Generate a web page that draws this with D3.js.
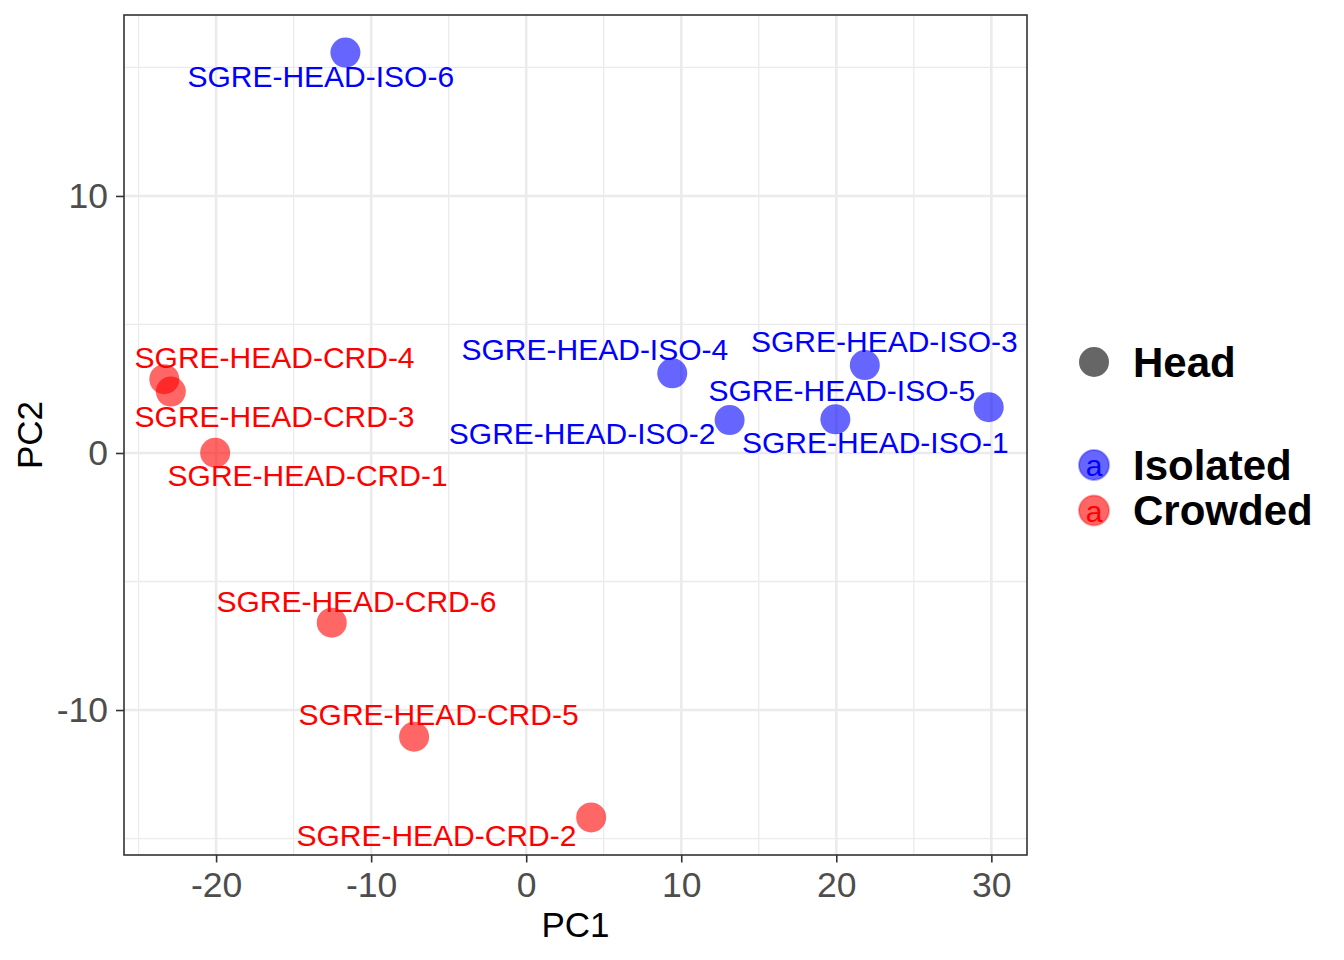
<!DOCTYPE html>
<html>
<head>
<meta charset="utf-8">
<script src="https://cdn.jsdelivr.net/npm/d3@7"></script>
<style>
  body { margin: 0; background: #fff; }
  svg text { font-family: "Liberation Sans", Arial, Helvetica, sans-serif; }
</style>
</head>
<body>
<div id="chart"></div>
<script>
// PCA scores
let samples = ["SGRE-HEAD-ISO-1", "SGRE-HEAD-ISO-2", "SGRE-HEAD-ISO-3", "SGRE-HEAD-ISO-4",
               "SGRE-HEAD-ISO-5", "SGRE-HEAD-ISO-6", "SGRE-HEAD-CRD-1", "SGRE-HEAD-CRD-2",
               "SGRE-HEAD-CRD-3", "SGRE-HEAD-CRD-4", "SGRE-HEAD-CRD-5", "SGRE-HEAD-CRD-6"];
let groups = ["Isolated", "Isolated", "Isolated", "Isolated", "Isolated", "Isolated",
              "Crowded", "Crowded", "Crowded", "Crowded", "Crowded", "Crowded"];
let pc1 = [29.83, 13.12, 21.84, 9.42, 19.94, -11.66, -20.06, 4.19, -22.92, -23.34, -7.23, -12.54];
let pc2 = [1.78, 1.28, 3.42, 3.10, 1.31, 15.58, 0.01, -14.18, 2.39, 2.87, -11.04, -6.60];

// where the repelled labels ended up, in PC units
let labelPc1 = [22.52, 3.61, 23.10, 4.43, 20.36, -13.25, -14.10, -5.79, -16.23, -16.23, -5.65, -10.95];
let labelPc2 = [0.39, 0.75, 4.32, 4.02, 2.43, 14.63, -0.89, -14.90, 1.41, 3.72, -10.19, -5.79];

let legendGroups = ["Isolated", "Crowded"];
let xTicks = [-20, -10, 0, 10, 20, 30];
let yTicks = [-10, 0, 10];
let xMinor = [-25, -15, -5, 5, 15, 25];
let yMinor = [-15, -5, 5, 15];

let colors = { Isolated: "#0000ff", Crowded: "#ff0000" };

let svgWidth = 1344;
let svgHeight = 960;
let margin = { top: 15, right: 317, bottom: 105, left: 124 };
let width = svgWidth - margin.left - margin.right;
let height = svgHeight - margin.top - margin.bottom;

let data = samples.map((s, i) => ({
  name: s, group: groups[i], x: pc1[i], y: pc2[i], lx: labelPc1[i], ly: labelPc2[i]
}));

let svg = d3.select("#chart")
  .append("svg")
  .attr("width", svgWidth)
  .attr("height", svgHeight);

let chartGroup = svg.append("g")
  .attr("transform", `translate(${margin.left}, ${margin.top})`);

let xScale = d3.scaleLinear().domain([-25.94, 32.3]).range([0, width]);
let yScale = d3.scaleLinear().domain([-15.64, 17.04]).range([height, 0]);

// grid
chartGroup.selectAll(".xminor").data(xMinor).enter().append("line")
  .attr("x1", d => xScale(d)).attr("x2", d => xScale(d))
  .attr("y1", 0).attr("y2", height)
  .attr("stroke", "#ebebeb").attr("stroke-width", 1.3);
chartGroup.selectAll(".yminor").data(yMinor).enter().append("line")
  .attr("y1", d => yScale(d)).attr("y2", d => yScale(d))
  .attr("x1", 0).attr("x2", width)
  .attr("stroke", "#ebebeb").attr("stroke-width", 1.3);
chartGroup.selectAll(".xmajor").data(xTicks).enter().append("line")
  .attr("x1", d => xScale(d)).attr("x2", d => xScale(d))
  .attr("y1", 0).attr("y2", height)
  .attr("stroke", "#ebebeb").attr("stroke-width", 2.6);
chartGroup.selectAll(".ymajor").data(yTicks).enter().append("line")
  .attr("y1", d => yScale(d)).attr("y2", d => yScale(d))
  .attr("x1", 0).attr("x2", width)
  .attr("stroke", "#ebebeb").attr("stroke-width", 2.6);

// points
chartGroup.selectAll(".pt").data(data).enter().append("circle")
  .attr("cx", d => xScale(d.x))
  .attr("cy", d => yScale(d.y))
  .attr("r", 15)
  .attr("fill", d => colors[d.group])
  .attr("fill-opacity", 0.6);

// labels
chartGroup.selectAll(".lbl").data(data).enter().append("text")
  .attr("x", d => xScale(d.lx))
  .attr("y", d => yScale(d.ly))
  .attr("dy", "0.35em")
  .attr("text-anchor", "middle")
  .attr("font-size", 30)
  .attr("fill", d => colors[d.group])
  .text(d => d.name);

// panel border
chartGroup.append("rect")
  .attr("width", width).attr("height", height)
  .attr("fill", "none").attr("stroke", "#333").attr("stroke-width", 1.6);

// axes
let xAxis = chartGroup.append("g")
  .attr("transform", `translate(0, ${height})`)
  .call(d3.axisBottom(xScale).tickValues(xTicks).tickSize(7.5).tickPadding(9).tickFormat(d3.format("d")));
let yAxis = chartGroup.append("g")
  .call(d3.axisLeft(yScale).tickValues(yTicks).tickSize(8).tickPadding(8).tickFormat(d3.format("d")));

[xAxis, yAxis].forEach(ax => {
  ax.select(".domain").remove();
  ax.selectAll(".tick line").attr("stroke", "#333").attr("stroke-width", 1.6);
  ax.selectAll(".tick text")
    .attr("fill", "#4d4d4d")
    .attr("font-size", 35.5)
    .style("font-family", "'Liberation Sans', Arial, sans-serif");
});
// ggplot uses a hyphen for negatives
xAxis.selectAll(".tick text").text(d => String(d));
yAxis.selectAll(".tick text").text(d => String(d));

// axis titles
chartGroup.append("text")
  .attr("x", width / 2)
  .attr("y", height + 82)
  .attr("text-anchor", "middle")
  .attr("font-size", 35)
  .attr("fill", "#000")
  .text("PC1");

chartGroup.append("text")
  .attr("transform", "rotate(-90)")
  .attr("x", -height / 2)
  .attr("y", -82)
  .attr("text-anchor", "middle")
  .attr("font-size", 35)
  .attr("fill", "#000")
  .text("PC2");

// legend
let legend = svg.append("g").attr("transform", "translate(1094, 0)");

legend.append("circle")
  .attr("cx", 0).attr("cy", 362).attr("r", 15)
  .attr("fill", "#000").attr("fill-opacity", 0.6);
legend.append("text")
  .attr("x", 39).attr("y", 376.5)
  .attr("font-size", 42).attr("font-weight", "bold")
  .text("Head");

let keys = legend.selectAll(".key").data(legendGroups).enter().append("g")
  .attr("transform", (d, i) => `translate(0, ${465 + i * 45.5})`);
keys.append("circle")
  .attr("r", 15)
  .attr("fill", d => colors[d]).attr("fill-opacity", 0.6)
  .attr("stroke", d => colors[d]).attr("stroke-opacity", 0.35).attr("stroke-width", 2);
keys.append("text")
  .attr("y", 11)
  .attr("text-anchor", "middle")
  .attr("font-size", 30)
  .attr("fill", d => colors[d])
  .text("a");
keys.append("text")
  .attr("x", 39).attr("y", 14.5)
  .attr("font-size", 42).attr("font-weight", "bold")
  .text(d => d);
</script>
</body>
</html>
